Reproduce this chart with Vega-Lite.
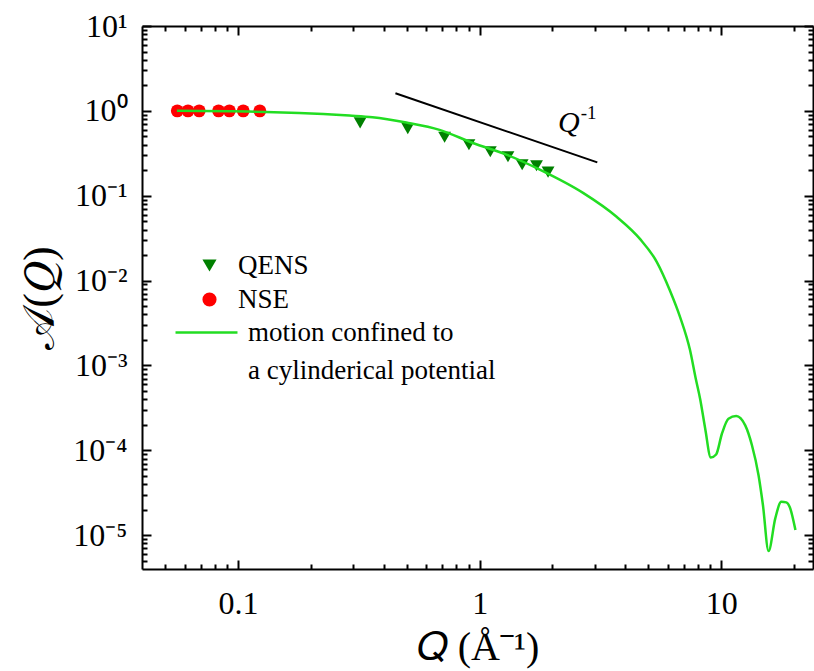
{
  "$schema": "https://vega.github.io/schema/vega-lite/v6.json",
  "autosize": "none",
  "width": 671,
  "height": 543,
  "padding": {"left": 142, "top": 26, "right": 1, "bottom": 102},
  "background": "white",
  "config": {
    "view": {"stroke": null},
    "font": "Liberation Serif",
    "axis": {"grid": false, "labelFont": "Liberation Serif", "titleFont": "Liberation Serif", "labelColor": "black", "titleColor": "black", "domainColor": "black", "tickColor": "black", "domainWidth": 2, "tickWidth": 2, "labelOverlap": false, "labelFlush": false, "titleFontWeight": "normal"},
    "legend": {"labelFont": "Liberation Serif", "labelFontSize": 27, "labelColor": "black", "padding": 0, "labelLimit": 500}
  },
  "datasets": {
    "exp": [
      {"Q": 0.320, "A": 0.723, "series": "QENS"},
      {"Q": 0.504, "A": 0.618, "series": "QENS"},
      {"Q": 0.716, "A": 0.489, "series": "QENS"},
      {"Q": 0.903, "A": 0.399, "series": "QENS"},
      {"Q": 1.107, "A": 0.330, "series": "QENS"},
      {"Q": 1.31, "A": 0.288, "series": "QENS"},
      {"Q": 1.50, "A": 0.232, "series": "QENS"},
      {"Q": 1.72, "A": 0.226, "series": "QENS"},
      {"Q": 1.92, "A": 0.190, "series": "QENS"},
      {"Q": 0.056, "A": 1.0, "series": "NSE"},
      {"Q": 0.062, "A": 1.0, "series": "NSE"},
      {"Q": 0.069, "A": 1.0, "series": "NSE"},
      {"Q": 0.083, "A": 1.0, "series": "NSE"},
      {"Q": 0.092, "A": 1.0, "series": "NSE"},
      {"Q": 0.105, "A": 1.0, "series": "NSE"},
      {"Q": 0.123, "A": 1.0, "series": "NSE"}
    ],
    "model": [
      {"Q": 0.0558, "A": 1.0, "model": "motion confined to"},
      {"Q": 0.130, "A": 0.973, "model": "motion confined to"},
      {"Q": 0.179, "A": 0.947, "model": "motion confined to"},
      {"Q": 0.289, "A": 0.881, "model": "motion confined to"},
      {"Q": 0.360, "A": 0.843, "model": "motion confined to"},
      {"Q": 0.497, "A": 0.729, "model": "motion confined to"},
      {"Q": 0.682, "A": 0.598, "model": "motion confined to"},
      {"Q": 0.938, "A": 0.418, "model": "motion confined to"},
      {"Q": 1.291, "A": 0.305, "model": "motion confined to"},
      {"Q": 1.774, "A": 0.203, "model": "motion confined to"},
      {"Q": 2.68, "A": 0.108, "model": "motion confined to"},
      {"Q": 3.69, "A": 0.0565, "model": "motion confined to"},
      {"Q": 4.61, "A": 0.0310, "model": "motion confined to"},
      {"Q": 5.41, "A": 0.01667, "model": "motion confined to"},
      {"Q": 6.14, "A": 0.00761, "model": "motion confined to"},
      {"Q": 6.76, "A": 0.00372, "model": "motion confined to"},
      {"Q": 7.43, "A": 0.00152, "model": "motion confined to"},
      {"Q": 7.85, "A": 0.000697, "model": "motion confined to"},
      {"Q": 8.18, "A": 0.000406, "model": "motion confined to"},
      {"Q": 8.59, "A": 0.000180, "model": "motion confined to"},
      {"Q": 9.06, "A": 0.0000822, "model": "motion confined to"},
      {"Q": 9.53, "A": 0.0000893, "model": "motion confined to"},
      {"Q": 10.07, "A": 0.000157, "model": "motion confined to"},
      {"Q": 10.72, "A": 0.000236, "model": "motion confined to"},
      {"Q": 11.54, "A": 0.000254, "model": "motion confined to"},
      {"Q": 12.58, "A": 0.000197, "model": "motion confined to"},
      {"Q": 13.41, "A": 0.000115, "model": "motion confined to"},
      {"Q": 14.28, "A": 0.000051, "model": "motion confined to"},
      {"Q": 14.89, "A": 0.0000227, "model": "motion confined to"},
      {"Q": 15.71, "A": 0.0000065, "model": "motion confined to"},
      {"Q": 16.75, "A": 0.0000158, "model": "motion confined to"},
      {"Q": 17.74, "A": 0.0000248, "model": "motion confined to"},
      {"Q": 18.6, "A": 0.0000244, "model": "motion confined to"},
      {"Q": 19.2, "A": 0.0000217, "model": "motion confined to"},
      {"Q": 20.3, "A": 0.0000115, "model": "motion confined to"}
    ],
    "guide": [
      {"Q": 0.448, "A": 1.614},
      {"Q": 3.07, "A": 0.247}
    ],
    "qlabel": [
      {"Q": 2.11, "A": 0.567, "text": "Q"}
    ],
    "explabel": [
      {"Q": 2.62, "A": 0.806, "text": "-1"}
    ]
  },
  "resolve": {"axis": {"x": "independent", "y": "independent"}},
  "layer": [
    {
      "data": {"name": "exp"},
      "mark": {"type": "point", "filled": true, "opacity": 1, "size": 165},
      "encoding": {
        "x": {
          "field": "Q", "type": "quantitative",
          "scale": {"type": "log", "domain": [0.04, 24], "nice": false},
          "axis": {
            "orient": "bottom",
            "values": [0.05, 0.06, 0.07, 0.08, 0.09, 0.1, 0.2, 0.3, 0.4, 0.5, 0.6, 0.7, 0.8, 0.9, 1, 2, 3, 4, 5, 6, 7, 8, 9, 10, 20],
            "labelExpr": "datum.value == 0.1 ? '0.1' : datum.value == 1 ? '1' : datum.value == 10 ? '10' : ''",
            "tickSize": {"condition": {"test": "datum.value == 0.1 || datum.value == 1 || datum.value == 10", "value": -9}, "value": -5},
            "labelFont": "Liberation Serif",
            "labelFontSize": 32,
            "labelPadding": 28,
            "title": "𝑄 (Å⁻¹)",
            "titleFontSize": 40,
            "titlePadding": 4
          }
        },
        "y": {
          "field": "A", "type": "quantitative",
          "scale": {"type": "log", "domain": [0.000004, 10], "nice": false},
          "axis": {
            "orient": "left",
            "values": [0.000005, 0.000006, 0.000007, 0.000008, 0.000009, 0.00001, 0.00002, 0.00003, 0.00004, 0.00005, 0.00006, 0.00007, 0.00008, 0.00009, 0.0001, 0.0002, 0.0003, 0.0004, 0.0005, 0.0006, 0.0007, 0.0008, 0.0009, 0.001, 0.002, 0.003, 0.004, 0.005, 0.006, 0.007, 0.008, 0.009, 0.01, 0.02, 0.03, 0.04, 0.05, 0.06, 0.07, 0.08, 0.09, 0.1, 0.2, 0.3, 0.4, 0.5, 0.6, 0.7, 0.8, 0.9, 1, 2, 3, 4, 5, 6, 7, 8, 9, 10],
            "labelExpr": "abs(log(datum.value)/LN10 - round(log(datum.value)/LN10)) < 0.000001 ? '10' + ['⁻⁵','⁻⁴','⁻³','⁻²','⁻¹','⁰','¹'][round(log(datum.value)/LN10) + 5] : ''",
            "tickSize": {"condition": {"test": "abs(log(datum.value)/LN10 - round(log(datum.value)/LN10)) < 0.000001", "value": -9}, "value": -5},
            "labelFont": "Liberation Serif",
            "labelFontSize": 32,
            "labelPadding": 24,
            "labelBaseline": "middle",
            "title": "𝒜(𝑄)",
            "titleFontSize": 44,
            "titlePadding": 10
          }
        },
        "color": {
          "field": "series", "type": "nominal",
          "scale": {"domain": ["QENS", "NSE"], "range": ["#008000", "#ff0000"]},
          "legend": {"title": null, "orient": "none", "legendX": 54, "legendY": 226, "symbolSize": 200, "labelOffset": 15, "rowPadding": 6, "symbolStrokeWidth": 0, "labelFont": "Liberation Serif", "labelFontSize": 27, "labelLimit": 500}
        },
        "shape": {
          "field": "series", "type": "nominal",
          "scale": {"domain": ["QENS", "NSE"], "range": ["triangle-down", "circle"]},
          "legend": {"title": null, "orient": "none", "legendX": 54, "legendY": 226, "symbolSize": 200, "labelOffset": 15, "rowPadding": 6, "symbolStrokeWidth": 0, "labelFont": "Liberation Serif", "labelFontSize": 27, "labelLimit": 500}
        }
      }
    },
    {
      "data": {"name": "model"},
      "mark": {"type": "line", "strokeWidth": 2.5, "interpolate": "monotone"},
      "encoding": {
        "x": {
          "field": "Q", "type": "quantitative",
          "axis": {
            "orient": "top",
            "values": [0.05, 0.06, 0.07, 0.08, 0.09, 0.1, 0.2, 0.3, 0.4, 0.5, 0.6, 0.7, 0.8, 0.9, 1, 2, 3, 4, 5, 6, 7, 8, 9, 10, 20],
            "labels": false,
            "title": null,
            "tickSize": {"condition": {"test": "datum.value == 0.1 || datum.value == 1 || datum.value == 10", "value": -9}, "value": -5}
          }
        },
        "y": {
          "field": "A", "type": "quantitative",
          "axis": {
            "orient": "right",
            "values": [0.000005, 0.000006, 0.000007, 0.000008, 0.000009, 0.00001, 0.00002, 0.00003, 0.00004, 0.00005, 0.00006, 0.00007, 0.00008, 0.00009, 0.0001, 0.0002, 0.0003, 0.0004, 0.0005, 0.0006, 0.0007, 0.0008, 0.0009, 0.001, 0.002, 0.003, 0.004, 0.005, 0.006, 0.007, 0.008, 0.009, 0.01, 0.02, 0.03, 0.04, 0.05, 0.06, 0.07, 0.08, 0.09, 0.1, 0.2, 0.3, 0.4, 0.5, 0.6, 0.7, 0.8, 0.9, 1, 2, 3, 4, 5, 6, 7, 8, 9, 10],
            "labels": false,
            "title": null,
            "tickSize": {"condition": {"test": "abs(log(datum.value)/LN10 - round(log(datum.value)/LN10)) < 0.000001", "value": -9}, "value": -5}
          }
        },
        "stroke": {
          "field": "model", "type": "nominal",
          "scale": {"domain": ["motion confined to", "a cylinderical potential"], "range": ["#22dd22", "rgba(255,255,255,0)"]},
          "legend": {"title": null, "orient": "none", "legendX": 51, "legendY": 293, "symbolType": "M-4,0H4", "symbolSize": 240, "symbolStrokeWidth": 2.5, "labelOffset": 28, "rowPadding": 10, "labelFont": "Liberation Serif", "labelFontSize": 27, "labelLimit": 500}
        }
      }
    },
    {
      "data": {"name": "guide"},
      "mark": {"type": "line", "color": "black", "strokeWidth": 2},
      "encoding": {
        "x": {"field": "Q", "type": "quantitative", "axis": null},
        "y": {"field": "A", "type": "quantitative", "axis": null}
      }
    },
    {
      "data": {"name": "qlabel"},
      "mark": {"type": "text", "font": "Liberation Serif", "fontStyle": "italic", "fontSize": 30, "align": "left", "baseline": "alphabetic", "color": "black"},
      "encoding": {
        "x": {"field": "Q", "type": "quantitative", "axis": null},
        "y": {"field": "A", "type": "quantitative", "axis": null},
        "text": {"field": "text"}
      }
    },
    {
      "data": {"name": "explabel"},
      "mark": {"type": "text", "font": "Liberation Serif", "fontSize": 19, "align": "left", "baseline": "alphabetic", "color": "black"},
      "encoding": {
        "x": {"field": "Q", "type": "quantitative", "axis": null},
        "y": {"field": "A", "type": "quantitative", "axis": null},
        "text": {"field": "text"}
      }
    }
  ]
}
